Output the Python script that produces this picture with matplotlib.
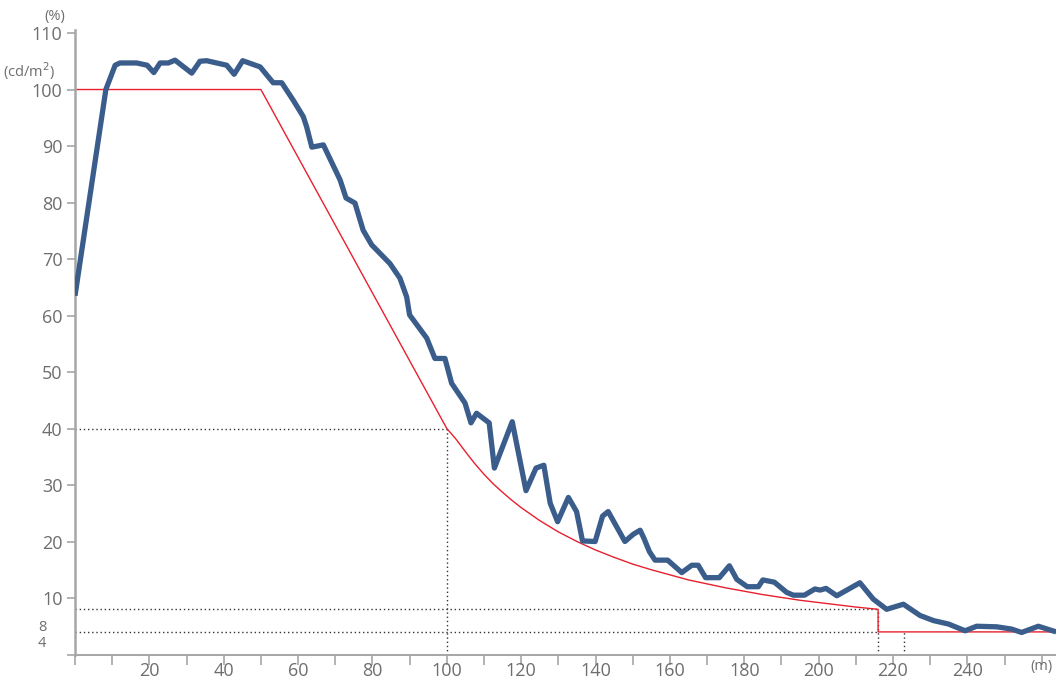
import matplotlib
matplotlib.use("Agg")
import matplotlib.pyplot as plt
from matplotlib import font_manager

# ---- data ----
measured_x = [0, 8.3, 10.8, 12.1, 16.6, 19.4, 21.2, 22.9, 25.1, 26.9, 31.4, 33.6, 35.4,
              40.8, 42.8, 45.1, 49.8, 53.3, 55.6, 58.7, 61.4, 62.3, 63.7, 66.8, 71.3,
              72.9, 75.3, 77.5, 79.8, 84.7, 87.4, 89.2, 90.0, 94.6, 96.8, 99.5, 101.3,
              104.9, 106.5, 108.0, 111.4, 112.8, 117.6, 121.3, 124.0, 126.1, 127.8, 129.8,
              132.7, 134.9, 136.5, 139.9, 141.9, 143.4, 147.9, 150.2, 152.0, 153.0, 154.5,
              156.0, 159.4, 163.2, 165.9, 167.6, 169.6, 173.3, 176.0, 178.0, 180.8, 183.8,
              185.0, 188.1, 191.4, 193.2, 196.2, 199.0, 200.4, 202.0, 204.9, 207.6, 211.1,
              214.7, 218.3, 222.8, 227.3, 230.9, 234.9, 239.4, 242.5, 247.9, 251.9, 254.6,
              259.1, 263.9]
measured_y = [63.5, 100.0, 104.3, 104.7, 104.7, 104.3, 103.0, 104.7, 104.7, 105.2, 102.9, 105.0, 105.1,
              104.3, 102.7, 105.1, 104.0, 101.2, 101.2, 98.1, 95.2, 93.4, 89.8, 90.2, 84.0,
              80.8, 79.9, 75.1, 72.5, 69.2, 66.6, 63.3, 60.1, 56.0, 52.4, 52.4, 48.0,
              44.5, 41.0, 42.7, 41.0, 33.0, 41.2, 29.0, 33.0, 33.5, 26.8, 23.5,
              27.8, 25.3, 20.1, 20.0, 24.5, 25.3, 20.0, 21.3, 22.0, 20.6, 18.2,
              16.7, 16.7, 14.5, 15.8, 15.8, 13.6, 13.6, 15.7, 13.3, 12.0, 12.0,
              13.2, 12.8, 11.0, 10.5, 10.5, 11.6, 11.4, 11.7, 10.4, 11.4, 12.7,
              9.8, 8.0, 8.9, 6.9, 6.0, 5.4, 4.2, 5.0, 4.9, 4.5, 3.9,
              5.0, 4.0]

required_x = [0, 50, 100, 102.5, 105, 107.5, 110, 112.5, 115, 117.5, 120, 125, 130, 135, 140,
              145, 150, 155, 160, 165, 170, 175, 180, 185, 190, 195, 200, 205, 210, 216, 216, 264]
required_y = [100, 100, 40, 38.1, 35.9, 33.8, 31.9, 30.2, 28.7, 27.3, 26.0, 23.7, 21.7, 20.0, 18.5,
              17.2, 16.0, 15.0, 14.1, 13.2, 12.5, 11.8, 11.2, 10.6, 10.1, 9.6, 9.2, 8.8, 8.4, 8.0,
              4.0, 4.0]

# reference guide points (x, y) for dotted lines
guide_40 = (100, 40)
guide_8 = (216, 8)
guide_4 = (223, 4)

y_ticks = [0, 10, 20, 30, 40, 50, 60, 70, 80, 90, 100, 110]
y_labels = ["", "10", "20", "30", "40", "50", "60", "70", "80", "90", "100", "110"]
x_ticks = list(range(0, 261, 10))
x_labels = ["" if (t == 0 or t % 20 or t == 260) else str(t) for t in x_ticks]

# ---- font ----
avail = {f.name for f in font_manager.fontManager.ttflist}
fam = "DejaVu Sans"
for cand in ["Liberation Sans Narrow", "Open Sans", "Lato", "Noto Sans"]:
    if cand in avail:
        fam = cand
        break
plt.rcParams["font.family"] = [fam, "DejaVu Sans"]

grey_txt = "#6e6e6e"
axis_col = "#a6a6a6"

fig = plt.figure(figsize=(10.56, 6.8), dpi=100)
ax = fig.add_axes([75 / 1056, (680 - 654.5) / 680, 981 / 1056, 624.3 / 680])
ax.set_xlim(0, 263.85)
ax.set_ylim(0, 110.5)

# dotted guides
dot = dict(color="#333333", lw=1.0, linestyle=(0, (1, 2)), zorder=1)
ax.plot([0, guide_40[0]], [guide_40[1], guide_40[1]], **dot)
ax.plot([guide_40[0], guide_40[0]], [0, guide_40[1]], **dot)
ax.plot([0, guide_8[0]], [guide_8[1], guide_8[1]], **dot)
ax.plot([guide_8[0], guide_8[0]], [0, guide_8[1]], **dot)
ax.plot([0, guide_8[0]], [guide_4[1], guide_4[1]], **dot)
ax.plot([guide_4[0], guide_4[0]], [0, guide_4[1]], **dot)

ax.plot(required_x, required_y, color="#e8202e", lw=1.0, zorder=2)
ax.plot(measured_x, measured_y, color="#3a5d8c", lw=3.8, solid_joinstyle="round",
        solid_capstyle="butt", zorder=3)

for s in ["top", "right"]:
    ax.spines[s].set_visible(False)
ax.spines["left"].set_color(axis_col)
ax.spines["left"].set_linewidth(1.8)
ax.spines["bottom"].set_color(axis_col)
ax.spines["bottom"].set_linewidth(1.4)

ax.set_yticks(y_ticks)
ax.set_yticklabels(y_labels)
ax.set_xticks(x_ticks)
ax.set_xticklabels(x_labels)
ax.tick_params(axis="y", direction="out", length=6, width=1.2, color=axis_col,
               labelcolor=grey_txt, labelsize=13, pad=3)
ax.tick_params(axis="x", direction="out", length=7, width=1.2, color=axis_col,
               labelcolor=grey_txt, labelsize=13, pad=-1.5)

# extra labels
ax.text(260, -2.2, "(m)", ha="center", va="center", fontsize=10.5, color=grey_txt, clip_on=False)
ax.text(-8.8, 4.78, "8", ha="center", va="center", fontsize=10.5, color=grey_txt, clip_on=False)
ax.text(-8.8, 1.86, "4", ha="center", va="center", fontsize=10.5, color=grey_txt, clip_on=False)
fig.text(55 / 1056, 1 - 16.5 / 680, "(%)", ha="center", va="center", fontsize=10.5, color=grey_txt)
fig.text(29 / 1056, 1 - 71.5 / 680, "(cd/m$^2$)", ha="center", va="center", fontsize=10.5, color=grey_txt)

fig.savefig("out.png", dpi=100)
